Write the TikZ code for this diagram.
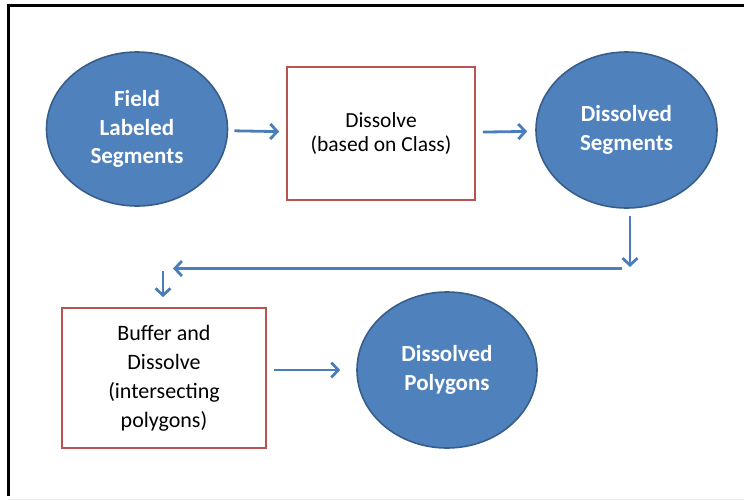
\documentclass[tikz,border=0pt]{standalone}
\usepackage{fontspec}
\setmainfont{Carlito}
\usetikzlibrary{shapes.geometric,arrows.meta}
\definecolor{blobfill}{HTML}{4F81BD}
\definecolor{blobline}{HTML}{385D8A}
\definecolor{boxline}{HTML}{B85450}
\definecolor{flowblue}{HTML}{4A7EBB}
\begin{document}
\begin{tikzpicture}[x=1pt,y=-1pt,
    blob/.style={draw=blobline, fill=blobfill, ellipse, line width=1.6pt, inner sep=0pt,
        text=white, font=\fontsize{23}{28.5}\selectfont\bfseries, align=center},
    stepbox/.style={draw=boxline, rectangle, line width=1.6pt, inner sep=0pt,
        text=black, font=\fontsize{22}{29}\selectfont, align=center},
    flow/.style={draw=flowblue, line width=2.8pt, -{Straight Barb[length=7pt,width=15pt]}}]
    \useasboundingbox (0,0) rectangle (744,501);
    % frame
    \draw[black!8, line width=0.8pt] (8,499) -- (744,499);
    \draw[line width=3pt] (8.5,496) -- (8.5,5.5) -- (744,5.5);
    % top row
    \node[blob, minimum width=181pt, minimum height=154pt] (field) at (137,129) {Field\\Labeled\\Segments};
    \node[stepbox, minimum width=188pt, minimum height=133pt, font=\fontsize{21.5}{24}\selectfont] (diss) at (381,133.5) {Dissolve\\(based on Class)};
    \node[blob, minimum width=181pt, minimum height=156pt] (dseg) at (626.5,130) {Dissolved\\Segments};
    % bottom row
    \node[stepbox, minimum width=204pt, minimum height=140pt] (buff) at (164,378) {Buffer and\\Dissolve\\(intersecting\\polygons)};
    \node[blob, minimum width=180pt, minimum height=156pt] (dpoly) at (447,370) {Dissolved\\Polygons};
    % return path
    \coordinate (dropend) at (630,267);
    \coordinate (railR) at (622,268.5);
    \coordinate (railL) at (173,268.5);
    \coordinate (stubtop) at (163,271);
    % arrows
    \draw[flow, shorten <=6pt, shorten >=7pt] (field) -- (diss);
    \draw[flow, shorten <=7pt, shorten >=8pt] (diss) -- (dseg);
    \draw[flow] ([xshift=3.5pt,yshift=-7pt]dseg.south) -- (dropend);
    \draw[flow] (railR) -- (railL);
    \draw[flow, shorten >=10pt] (stubtop) -- (stubtop |- buff.north);
    \draw[flow, shorten <=7pt, shorten >=16pt] ([yshift=8pt]buff.east) -- (dpoly.west);
\end{tikzpicture}
\end{document}
